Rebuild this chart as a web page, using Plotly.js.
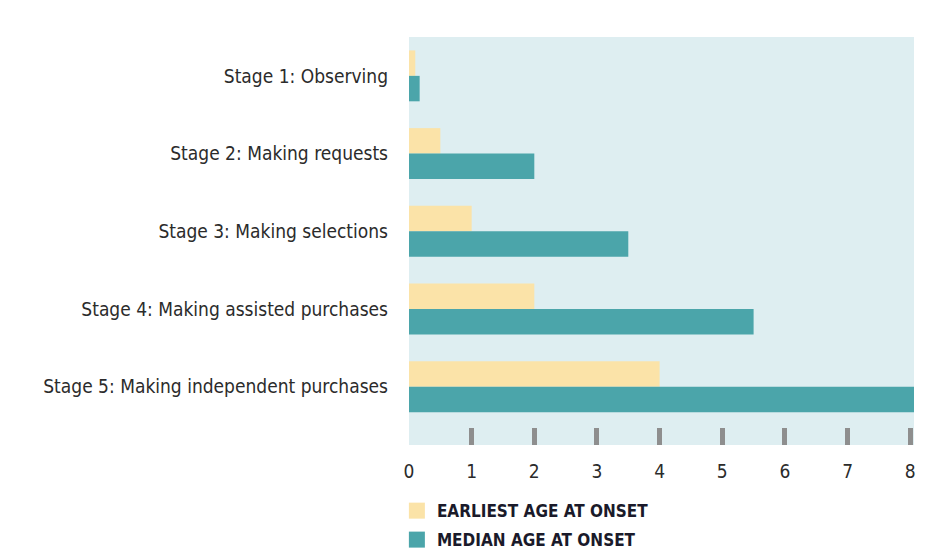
<!DOCTYPE html>
<html>
<head>
<meta charset="utf-8">
<script src="https://cdn.plot.ly/plotly-3.0.1.min.js"></script>
<style>html,body{margin:0;padding:0;background:#fff;}#chart{width:948px;height:556px;}</style>
</head>
<body>
<div id="chart"></div>
<script>
const stages = [
  "Stage 1: Observing",
  "Stage 2: Making requests",
  "Stage 3: Making selections",
  "Stage 4: Making assisted purchases",
  "Stage 5: Making independent purchases"
];
const earliestAge = [0.1, 0.5, 1, 2, 4];
const medianAge = [0.17, 2, 3.5, 5.5, 8.1];
const seriesNames = ["EARLIEST AGE AT ONSET", "MEDIAN AGE AT ONSET"];
const xTickVals = [0, 1, 2, 3, 4, 5, 6, 7, 8];
const markTickVals = [1, 2, 3, 4, 5, 6, 7, 8];

const yellow = "#fbe3a8";
const teal = "#4ba5aa";
const FONT = "'Liberation Sans Narrow', 'DejaVu Sans Condensed', 'Roboto', sans-serif";

const data = [
  {type: "bar", orientation: "h", y: stages, x: earliestAge, name: seriesNames[0],
   marker: {color: yellow}, showlegend: false, hoverinfo: "x"},
  {type: "bar", orientation: "h", y: stages, x: medianAge, name: seriesNames[1],
   marker: {color: teal}, showlegend: false, hoverinfo: "x"},
  {type: "scatter", mode: "markers", x: [null], y: [null], name: seriesNames[0],
   marker: {color: yellow, symbol: "square", size: 19}, showlegend: true, legend: "legend"},
  {type: "scatter", mode: "markers", x: [null], y: [null], name: seriesNames[1],
   marker: {color: teal, symbol: "square", size: 19}, showlegend: true, legend: "legend2"},
  {type: "scatter", mode: "markers", x: [null], y: [null], xaxis: "x2", yaxis: "y",
   showlegend: false, hoverinfo: "skip"}
];

const legendFont = {family: FONT, size: 17, color: "#1a1a2a", weight: "bold"};

const layout = {
  width: 948, height: 556,
  margin: {l: 409, r: 34, t: 37, b: 111, autoexpand: false},
  paper_bgcolor: "#ffffff",
  plot_bgcolor: "#deeef1",
  barmode: "group",
  bargap: 0.345,
  bargroupgap: 0,
  font: {family: FONT, color: "#2b2b2b"},
  xaxis: {
    range: [0, 8.06], fixedrange: true,
    tickvals: markTickVals, ticks: "inside", ticklen: 17, tickwidth: 5, tickcolor: "#8e8e8e",
    showticklabels: false, showgrid: false, zeroline: false, showline: false
  },
  xaxis2: {
    range: [0, 8.06], overlaying: "x", side: "bottom", anchor: "y",
    tickvals: xTickVals, ticktext: xTickVals.map(String), ticks: "",
    showgrid: false, zeroline: false, showline: false,
    tickfont: {family: FONT, size: 19, color: "#2b2b2b"}, ticklabelstandoff: 13
  },
  yaxis: {
    range: [4.75, -0.5], fixedrange: true,
    showgrid: false, zeroline: false, showline: false, ticks: "",
    tickfont: {family: FONT, size: 19, color: "#2b2b2b"}, ticklabelstandoff: 20
  },
  showlegend: true,
  legend: {
    x: -0.024, xanchor: "left", y: -0.162, yanchor: "middle",
    bgcolor: "rgba(0,0,0,0)", font: legendFont, itemwidth: 30
  },
  legend2: {
    x: -0.024, xanchor: "left", y: -0.233, yanchor: "middle",
    bgcolor: "rgba(0,0,0,0)", font: legendFont, itemwidth: 30
  }
};

Plotly.newPlot("chart", data, layout, {displayModeBar: false, staticPlot: true});
</script>
</body>
</html>
